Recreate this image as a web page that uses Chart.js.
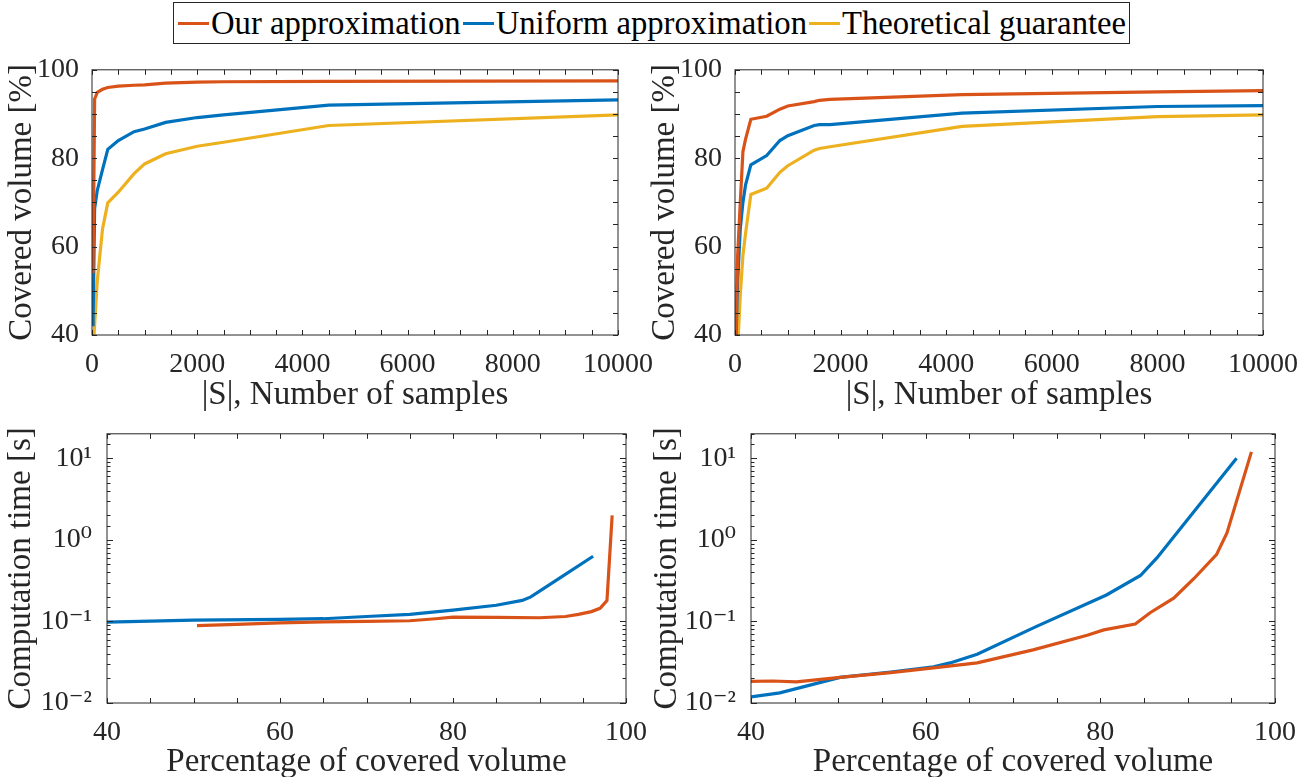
<!DOCTYPE html>
<html>
<head>
<meta charset="utf-8">
<script src="https://cdn.jsdelivr.net/npm/chart.js@4.4.0/dist/chart.umd.min.js"></script>
<style>
  body { margin: 0; background: #fff; width: 1316px; height: 777px; overflow: hidden; position: relative; font-family: "Liberation Serif", "DejaVu Serif", serif; }
  .panel { position: absolute; }
  #legend { position: absolute; left: 173px; top: 2px; width: 957px; height: 42px; box-sizing: border-box; border: 1px solid #262626; background: #fff;
            display: flex; align-items: center; padding-left: 4px; font-size: 32.7px; color: #000; white-space: nowrap; }
  .item { display: flex; align-items: center; }
  .swatch { width: 31px; height: 3px; margin-right: 2px; }
</style>
</head>
<body>
<div id="legend"></div>
<div class="panel" style="left:6px;top:48px;width:654px;height:364px"><canvas id="c1"></canvas></div>
<div class="panel" style="left:649px;top:48px;width:667px;height:364px"><canvas id="c2"></canvas></div>
<div class="panel" style="left:5px;top:410px;width:647px;height:369px"><canvas id="c3"></canvas></div>
<div class="panel" style="left:651px;top:410px;width:665px;height:369px"><canvas id="c4"></canvas></div>
<script>
// series
const seriesNames = ['Our approximation', 'Uniform approximation', 'Theoretical guarantee'];
const seriesColors = ['#D95319', '#0072BD', '#EDB120'];

// top left: covered volume vs number of samples
const tlSamples = [20, 50, 100, 200, 300, 500, 800, 1000, 1400, 2000, 2500, 4500, 10000];
const tlOur     = [54, 93.4, 94.9, 95.6, 96.0, 96.3, 96.5, 96.6, 97.0, 97.2, 97.3, 97.4, 97.5];
const tlUniform = [42, 68.6, 72.7, 77.4, 82.0, 84.0, 86.0, 86.6, 88.1, 89.2, 89.8, 92.0, 93.2];
const tlTheory  = [36, 42.4, 52.2, 64.0, 69.9, 72.3, 76.5, 78.7, 81.0, 82.7, 83.6, 87.4, 89.8];

// top right
const trSamples = [20, 50, 100, 150, 200, 300, 600, 850, 1000, 1500, 1600, 1800, 4300, 8000, 10000];
const trOur     = [40, 58, 70, 81.5, 84.3, 88.8, 89.5, 91.1, 91.8, 92.8, 93.1, 93.3, 94.4, 95.0, 95.3];
const trUniform = [40, 52, 64, 70, 74, 78.5, 80.6, 84.0, 85.1, 87.4, 87.6, 87.6, 90.2, 91.7, 91.9];
const trTheory  = [34, 37, 49, 58, 63, 71.8, 73.2, 76.8, 78.3, 81.8, 82.2, 82.6, 87.2, 89.4, 89.8];

// bottom left: computation time vs covered volume
const blOurX     = [50.4, 55, 60, 65, 70, 75, 78, 80, 85, 90, 93, 94.5, 96, 97, 97.8, 98.4];
const blOurT     = [0.089, 0.092, 0.096, 0.099, 0.1, 0.102, 0.108, 0.113, 0.112, 0.111, 0.115, 0.122, 0.132, 0.145, 0.18, 2.0];
const blUniformX = [40, 50, 60, 65, 70, 75, 80, 85, 88, 89, 92.5, 96.2];
const blUniformT = [0.098, 0.104, 0.106, 0.108, 0.115, 0.122, 0.138, 0.158, 0.181, 0.2, 0.35, 0.63];

// bottom right
const brOurX     = [40, 42.5, 45.2, 50.2, 56, 60.9, 65.9, 72.3, 78.5, 80.4, 84, 85.7, 88.4, 90.7, 93.3, 94.5, 97.3];
const brOurT     = [0.0184, 0.0186, 0.0182, 0.0206, 0.0236, 0.027, 0.031, 0.0448, 0.0676, 0.0788, 0.093, 0.128, 0.193, 0.334, 0.66, 1.22, 12];
const brUniformX = [40, 43.3, 50.2, 56, 60.9, 62.8, 65.9, 72.7, 80.7, 84.6, 86.5, 95.6];
const brUniformT = [0.0119, 0.0133, 0.0206, 0.024, 0.0278, 0.031, 0.0397, 0.087, 0.211, 0.366, 0.605, 10];

const FONT = '"Liberation Serif", "DejaVu Serif", serif';
const INK = '#262626';

// legend
const legend = document.getElementById('legend');
seriesNames.forEach((name, i) => {
    const item = document.createElement('div');
    item.className = 'item';
    item.innerHTML = '<span class="swatch" style="background:' + seriesColors[i] + '"></span><span>' + name + '</span>';
    if (i > 0) item.style.marginLeft = '2px';
    legend.appendChild(item);
});

const toPoints = (xs, ys) => xs.map((x, i) => ({ x: x, y: ys[i] }));

const supMap = { '-': '\u207B', '0': '\u2070', '1': '\u00B9', '2': '\u00B2', '3': '\u00B3' };
const powLabel = v => {
    const e = Math.round(Math.log10(v));
    if (Math.abs(v / Math.pow(10, e) - 1) > 1e-6) return '';
    return '10' + String(e).split('').map(c => supMap[c]).join('');
};

// box around the axes with inward tick marks on all four sides
const boxTicks = {
    id: 'boxTicks',
    afterDatasetsDraw(chart) {
        const { ctx, chartArea: a, scales } = chart;
        ctx.save();
        ctx.strokeStyle = INK;
        ctx.lineWidth = 1;
        ctx.strokeRect(a.left, a.top, a.right - a.left, a.bottom - a.top);
        ctx.beginPath();
        scales.x.ticks.forEach(t => {
            const px = Math.round(scales.x.getPixelForValue(t.value)) + 0.5;
            ctx.moveTo(px, a.bottom); ctx.lineTo(px, a.bottom - 5);
            ctx.moveTo(px, a.top); ctx.lineTo(px, a.top + 5);
        });
        const isLog = scales.y.type === 'logarithmic';
        scales.y.ticks.forEach(t => {
            const py = Math.round(scales.y.getPixelForValue(t.value)) + 0.5;
            const len = isLog ? (t.label ? 6 : 3.5) : 5;
            ctx.moveTo(a.left, py); ctx.lineTo(a.left + len, py);
            ctx.moveTo(a.right, py); ctx.lineTo(a.right - len, py);
        });
        ctx.stroke();
        ctx.restore();
    }
};

function makePanel(id, datasets, opt) {
    const ctx = document.getElementById(id).getContext('2d');
    return new Chart(ctx, {
        type: 'line',
        data: {
            datasets: datasets.map(d => ({
                data: d.data,
                borderColor: d.color,
                backgroundColor: d.color,
                borderWidth: 3.2,
                pointRadius: 0,
                tension: 0,
                fill: false
            }))
        },
        options: {
            responsive: true,
            maintainAspectRatio: false,
            animation: false,
            layout: { padding: opt.padding },
            plugins: { legend: { display: false }, tooltip: { enabled: false } },
            scales: {
                x: {
                    type: 'linear',
                    min: opt.xMin, max: opt.xMax,
                    grid: { display: false },
                    border: { display: false },
                    ticks: {
                        stepSize: opt.xStep,
                        autoSkip: false, maxRotation: 0,
                        padding: 5,
                        color: INK,
                        font: { family: FONT, size: 28 },
                        callback: v => (v % opt.xLabelEvery === 0 ? String(v) : '')
                    },
                    title: { display: true, text: opt.xTitle, color: INK, padding: 0,
                             font: { family: FONT, size: 33, lineHeight: 1 } },
                    afterFit: s => { s.height = opt.xHeight; }
                },
                y: {
                    type: opt.yLog ? 'logarithmic' : 'linear',
                    min: opt.yMin, max: opt.yMax,
                    grid: { display: false },
                    border: { display: false },
                    ticks: {
                        stepSize: opt.yStep,
                        autoSkip: false,
                        padding: opt.yLog ? 7 : 5,
                        color: INK,
                        font: { family: FONT, size: 28 },
                        callback: opt.yLog ? powLabel : (v => (v % 20 === 0 ? String(v) : ''))
                    },
                    title: { display: true, text: opt.yTitle, color: INK, padding: 0,
                             font: { family: FONT, size: 33, lineHeight: 1 } },
                    afterFit: s => { s.width = opt.yWidth; }
                }
            }
        },
        plugins: [boxTicks]
    });
}

const topOpts = {
    xMin: 0, xMax: 10000, xStep: 500, xLabelEvery: 2000, xTitle: '|S|, Number of samples', xHeight: 77,
    yMin: 40, yMax: 100, yStep: 5, yTitle: 'Covered volume [%]'
};
const bottomOpts = {
    xMin: 40, xMax: 100, xStep: 5, xLabelEvery: 20, xTitle: 'Percentage of covered volume', xHeight: 76,
    yLog: true, yMin: 0.01, yMax: 20, yTitle: 'Computation time [s]'
};

makePanel('c1', [
    { data: toPoints(tlSamples, tlOur), color: seriesColors[0] },
    { data: toPoints(tlSamples, tlUniform), color: seriesColors[1] },
    { data: toPoints(tlSamples, tlTheory), color: seriesColors[2] }
], Object.assign({}, topOpts, { yWidth: 86, padding: { top: 21, right: 42, left: 0, bottom: 0 } }));

makePanel('c2', [
    { data: toPoints(trSamples, trOur), color: seriesColors[0] },
    { data: toPoints(trSamples, trUniform), color: seriesColors[1] },
    { data: toPoints(trSamples, trTheory), color: seriesColors[2] }
], Object.assign({}, topOpts, { yWidth: 86, padding: { top: 21, right: 53, left: 0, bottom: 0 } }));

makePanel('c3', [
    { data: toPoints(blOurX, blOurT), color: seriesColors[0] },
    { data: toPoints(blUniformX, blUniformT), color: seriesColors[1] }
], Object.assign({}, bottomOpts, { yWidth: 102, padding: { top: 17, right: 20, left: 0, bottom: 0 } }));

makePanel('c4', [
    { data: toPoints(brOurX, brOurT), color: seriesColors[0] },
    { data: toPoints(brUniformX, brUniformT), color: seriesColors[1] }
], Object.assign({}, bottomOpts, { yWidth: 100, padding: { top: 17, right: 41, left: 0, bottom: 0 } }));
</script>
</body>
</html>
